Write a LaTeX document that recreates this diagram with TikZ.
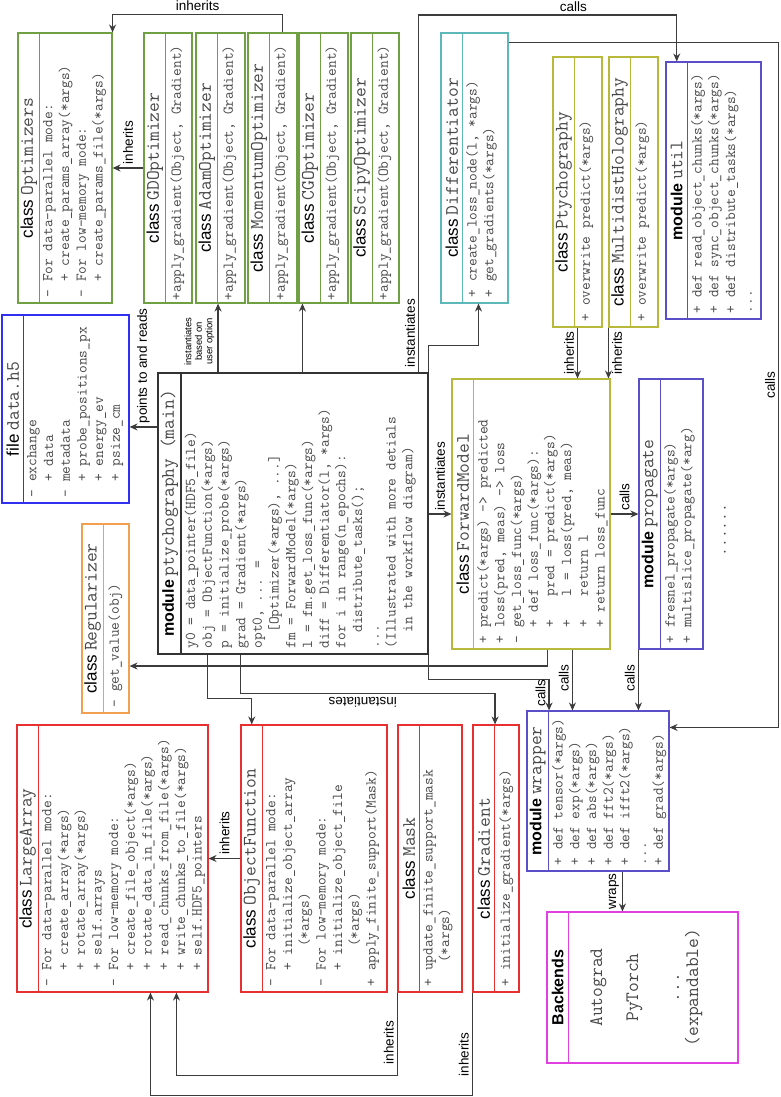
\documentclass[tikz,border=0pt]{standalone}
\usepackage{fontspec}
\setsansfont{Liberation Sans}
\usetikzlibrary{arrows.meta,calc}

\definecolor{cgreen}{HTML}{6FA044}
\definecolor{cteal}{HTML}{5DB9B9}
\definecolor{colive}{HTML}{B8B83A}
\definecolor{cslate}{HTML}{5A4FC8}
\definecolor{cblue}{HTML}{3030F0}
\definecolor{corange}{HTML}{F0A050}
\definecolor{cred}{HTML}{E83030}
\definecolor{cmag}{HTML}{E040E0}
\definecolor{cmain}{HTML}{333333}
\definecolor{cline}{HTML}{3C3C3C}

\newcommand{\cls}[2]{{\sffamily\fontsize{17}{20}\selectfont #1}\hspace{4pt}{\ttfamily\fontsize{19}{20}\selectfont\color{black!72}#2}}
\newcommand{\mdl}[2]{{\sffamily\bfseries\fontsize{16}{20}\selectfont #1}\hspace{4pt}{\ttfamily\fontsize{19}{20}\selectfont\color{black!72}#2}}
\newcommand{\indn}[1]{\hspace*{#1\dimexpr0.525em\relax}}

\begin{document}
\begin{tikzpicture}[x=1pt, y=-1pt,
  ubox/.style={draw=#1, line width=1.1pt, rotate=90, inner sep=0pt},
  ttl/.style={draw=#1, line width=1.1pt, rotate=90, anchor=north, inner sep=0pt, minimum height=21.5pt},
  btxt/.style={rotate=90, anchor=north west, align=left, inner xsep=6pt, inner ysep=3pt,
    font=\ttfamily\fontsize{15}{16.7}\selectfont, text=black!72, execute at begin node=\strut},
  arr/.style={draw=cline, line width=1.2pt, -{Stealth[length=8pt,width=7pt]}},
  lbl/.style={rotate=90, font=\sffamily\fontsize{13.5}{15}\selectfont, inner sep=3pt},
  lblh/.style={font=\sffamily\fontsize{13.5}{15}\selectfont, inner sep=3pt},
  lbls/.style={rotate=90, align=center, font=\sffamily\fontsize{9.5}{10.5}\selectfont, inner sep=3pt}]

\useasboundingbox (0,0) rectangle (780,1097);
\coordinate (topln) at (0,15);

% Optimizers
\node[ubox=cgreen, minimum width=270pt, minimum height=94pt] (opt) at (65,168) {};
\node[ttl=cgreen, minimum width=270pt] (optT) at (opt.north) {\cls{class}{Optimizers}};
\node[btxt] (optB) at (optT.south west) {- For data-parallel mode:\\\indn2+ create\_params\_array(*args)\\- For low-memory mode:\\\indn2+ create\_params\_file(*args)};

% optimizer classes
\foreach \nm/\cx/\bw/\tp in {gd/168/48/GD, adam/220.5/49/Adam, mom/272.5/49/Momentum, cg/323.5/49/CG, scipy/375/48/Scipy}{
  \node[ubox=cgreen, minimum width=270pt, minimum height=\bw pt] (\nm) at (\cx,168) {};
  \node[ttl=cgreen, minimum width=270pt] (\nm T) at (\nm.north) {\cls{class}{\tp Optimizer}};
  \node[btxt, inner xsep=3pt] (\nm B) at (\nm T.south west) {+apply\_gradient(Object, Gradient)};
}

% Differentiator
\node[ubox=cteal, minimum width=270pt, minimum height=67pt] (diff) at (474.5,168) {};
\node[ttl=cteal, minimum width=270pt] (diffT) at (diff.north) {\cls{class}{Differentiator}};
\node[btxt] (diffB) at (diffT.south west) {+ create\_loss\_node(l, *args)\\+ get\_gradients(*args)};

% Ptychography
\node[ubox=colive, minimum width=270pt, minimum height=49pt] (ptyc) at (577.5,192) {};
\node[ttl=colive, minimum width=270pt] (ptycT) at (ptyc.north) {\cls{class}{Ptychography}};
\node[btxt] (ptycB) at (ptycT.south west) {+ overwrite predict(*args)};

% MultidistHolography
\node[ubox=colive, minimum width=270pt, minimum height=49pt] (mdh) at (633.5,192) {};
\node[ttl=colive, minimum width=270pt] (mdhT) at (mdh.north) {\cls{class}{MultidistHolography}};
\node[btxt] (mdhB) at (mdhT.south west) {+ overwrite predict(*args)};

% util
\node[ubox=cslate, minimum width=257pt, minimum height=95pt] (util) at (713.5,190.5) {};
\node[ttl=cslate, minimum width=257pt] (utilT) at (util.north) {\mdl{module}{util}};
\node[btxt] (utilB) at (utilT.south west) {+ def read\_object\_chunks(*args)\\+ def sync\_object\_chunks(*args)\\+ def distribute\_tasks(*args)\\...};

% data.h5
\node[ubox=cblue, minimum width=188pt, minimum height=127pt] (data) at (65.5,409) {};
\node[ttl=cblue, minimum width=188pt] (dataT) at (data.north) {\cls{file}{data.h5}};
\node[btxt] (dataB) at (dataT.south west) {- exchange\\\indn2+ data\\- metadata\\\indn2+ probe\_positions\_px\\\indn2+ energy\_ev\\\indn2+ psize\_cm};

% Regularizer
\node[ubox=corange, minimum width=189pt, minimum height=47pt] (reg) at (105.5,618.5) {};
\node[ttl=corange, minimum width=189pt] (regT) at (reg.north) {\cls{class}{Regularizer}};
\node[btxt] (regB) at (regT.south west) {- get\_value(obj)};

% main module
\node[ubox=cmain, minimum width=281pt, minimum height=270pt] (main) at (293,513.5) {};
\node[ttl=cmain, minimum width=281pt, minimum height=23pt] (mainT) at (main.north) {\mdl{module}{ptychography (main)}};
\node[btxt] (mainB) at (mainT.south west) {y0 = data\_pointer(HDF5\_file)\\obj = ObjectFunction(*args)\\p = initialize\_probe(*args)\\grad = Gradient(*args)\\opt0, ... =\\\indn2[Optimizer(*args), ...]\\fm = ForwardModel(*args)\\l = fm.get\_loss\_func(*args)\\diff = Differentiator(l, *args)\\for i in range(n\_epochs):\\\indn2distribute\_tasks();\\...\\(Illustrated with more detials\\\indn2in the workflow diagram)};

% ForwardModel
\node[ubox=colive, minimum width=270pt, minimum height=158pt] (fm) at (531,514) {};
\node[ttl=colive, minimum width=270pt] (fmT) at (fm.north) {\cls{class}{ForwardModel}};
\node[btxt] (fmB) at (fmT.south west) {+ predict(*args) -> predicted\\+ loss(pred, meas) -> loss\\- get\_loss\_func(*args)\\\indn2+ def loss\_func(*args):\\\indn2+ \indn2pred = predict(*args)\\\indn2+ \indn2l = loss(pred, meas)\\\indn2+ \indn2return l\\\indn2+ return loss\_func};

% propagate
\node[ubox=cslate, minimum width=270pt, minimum height=64pt] (prop) at (671,514) {};
\node[ttl=cslate, minimum width=270pt] (propT) at (prop.north) {\mdl{module}{propagate}};
\node[btxt] (propB) at (propT.south west) {+ fresnel\_propagate(*args)\\+ multislice\_propagate(*arg)};
\node[rotate=90, font=\ttfamily\fontsize{17}{17}\selectfont, text=black!72] (dots) at (725,530) {......};

% LargeArray
\node[ubox=cred, minimum width=267pt, minimum height=191pt] (large) at (112.5,858.5) {};
\node[ttl=cred, minimum width=267pt] (largeT) at (large.north) {\cls{class}{LargeArray}};
\node[btxt] (largeB) at (largeT.south west) {- For data-parallel mode:\\\indn2+ create\_array(*args)\\\indn2+ rotate\_array(*args)\\\indn2+ self.arrays\\- For low-memory mode:\\\indn2+ create\_file\_object(*args)\\\indn2+ rotate\_data\_in\_file(*args)\\\indn2+ read\_chunks\_from\_file(*args)\\\indn2+ write\_chunks\_to\_file(*args)\\\indn2+ self.HDF5\_pointers};

% ObjectFunction
\node[ubox=cred, minimum width=267pt, minimum height=146pt] (objf) at (314,858.5) {};
\node[ttl=cred, minimum width=267pt] (objfT) at (objf.north) {\cls{class}{ObjectFunction}};
\node[btxt] (objfB) at (objfT.south west) {- For data-parallel mode:\\\indn2+ initialize\_object\_array\\\indn5(*args)\\- For low-memory mode:\\\indn2+ initialize\_object\_file\\\indn5(*args)\\+ apply\_finite\_support(Mask)};

% Mask
\node[ubox=cred, minimum width=267pt, minimum height=64pt] (mask) at (430,858.5) {};
\node[ttl=cred, minimum width=267pt] (maskT) at (mask.north) {\cls{class}{Mask}};
\node[btxt] (maskB) at (maskT.south west) {+ update\_finite\_support\_mask\\\indn3(*args)};

% Gradient
\node[ubox=cred, minimum width=267pt, minimum height=46pt] (grad) at (496,858.5) {};
\node[ttl=cred, minimum width=267pt] (gradT) at (grad.north) {\cls{class}{Gradient}};
\node[btxt] (gradB) at (gradT.south west) {+ initialize\_gradient(*args)};

% wrapper
\node[ubox=cslate, minimum width=160pt, minimum height=142pt] (wrap) at (598,791) {};
\node[ttl=cslate, minimum width=160pt] (wrapT) at (wrap.north) {\mdl{module}{wrapper}};
\node[btxt] (wrapB) at (wrapT.south west) {+ def tensor(*args)\\+ def exp(*args)\\+ def abs(*args)\\+ def fft2(*args)\\+ def ifft2(*args)\\...\\+ def grad(*args)};

% Backends
\node[ubox=cmag, minimum width=151pt, minimum height=191pt] (back) at (642.5,987.5) {};
\node[ttl=cmag, minimum width=151pt] (backT) at (back.north) {\sffamily\bfseries\fontsize{16}{20}\selectfont Backends};
\node[rotate=90, anchor=north, inner sep=0pt, align=center, font=\ttfamily\fontsize{19}{19}\selectfont, text=black!72] (backB) at (590,987.5) {Autograd\\[17pt]PyTorch\\[22pt]...\\(expandable)};

% connectors
\draw[arr] (gd.north) -- node[lbl, anchor=west] (l1) {inherits} (opt.south);
\draw[arr] ([xshift=10pt]mom.east) -- ++(0,-18) -| node[lblh, above, pos=0.25] (l2) {inherits} (opt.south east);
\draw[arr] (main.east -| adamT.south west) -- node[lbls, pos=0.45, anchor=south] (l3) {instantiates\\based on\\user option} (adamT.south west);
\draw[arr] ($(cg.north west |- main.east)+(4,0)$) -- ($(cg.north west)+(4,0)$);
\draw[arr] (main.south east) -- ++(0,-27) -| ([xshift=4pt]diff.west);
\draw[arr] ($(main.south east)+(-10,0)$) -- node[lbl, pos=0.11, anchor=south] (l4) {instantiates} ($(main.south east |- topln)+(-10,0)$) -| node[lblh, above, pos=0.3] (l5) {calls} (utilT.east);
\coordinate (datain) at ($(data.south)!0.19!(data.south west)$);
\draw[arr] (main.north |- datain) -- node[lbl, anchor=west] (l6) {points to and reads} (datain);
\draw[arr] (main.south |- fm.north) -- node[lbl, anchor=west] (l7) {instantiates} (fm.north);
\draw[arr] (ptyc.west) -- node[lbl, anchor=south] (l8) {inherits} (ptyc.west |- fm.east);
\draw[arr] (mdh.north west) -- node[lbl, anchor=north] (l9) {inherits} (mdh.north west |- fm.east);
\draw[arr] (fm.south) -- node[lbl, anchor=west] (l10) {calls} (prop.north);
\coordinate (regin) at ($(reg.south)!0.5!(reg.south west)$);
\draw[arr] ([xshift=96pt]fm.north west) |- (regin);
\draw[arr] ([xshift=121pt]fm.north west) -- node[lbl, anchor=south, pos=0.47] (l11) {calls} ($(fm.north west |- wrap.east)+(121,0)$);
\draw[arr] (prop.north west) -- node[lbl, anchor=south, pos=0.47] (l12) {calls} (prop.north west |- wrap.east);
\draw[arr] (main.south west) -- ++(0,25) -| node[lbl, anchor=south, pos=0.72] (l13) {calls} (wrapT.south east);
\draw[arr] ([xshift=50pt]main.north west) -- ++(0,44) -| (objfT.east);
\draw[arr] ([xshift=83pt]main.north west) -- ++(0,39) -| node[lblh, rotate=180, anchor=south, pos=0.24] (l14) {instantiates} (gradT.south east);
\draw[arr] (objf.north) -- node[lbl, anchor=west] (l15) {inherits} (large.south);
\draw[arr] (mask.north west) -- node[lbl, anchor=south, pos=0.6] (l16) {inherits} ++(0,83) -| ([xshift=160pt]large.north west);
\draw[arr] (grad.north west) -- node[lbl, anchor=south, pos=0.6] (l17) {inherits} ++(0,103) -| ([xshift=134pt]large.north west);
\draw[arr] ([yshift=-10pt]diff.south east) -- ++(270,0) |- node[lbl, anchor=south, pos=0.25] (l18) {calls} ([yshift=-17pt]wrap.south east);
\draw[arr] ([xshift=96pt]wrap.north west) -- node[lbl, anchor=south] (l19) {wraps} ($(wrap.north west |- back.east)+(96,0)$);

\end{tikzpicture}
\end{document}
